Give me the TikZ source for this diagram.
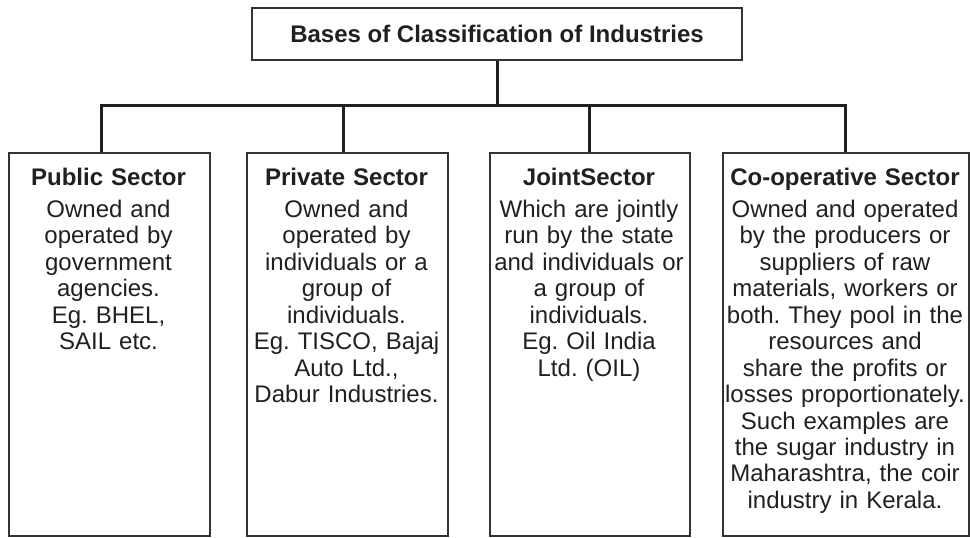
\documentclass[tikz,border=0pt]{standalone}
\usepackage{fontspec}
\setmainfont{Liberation Sans}
\definecolor{ink}{HTML}{231F20}
\definecolor{boxgray}{HTML}{333333}
\frenchspacing
\begin{document}
\begin{tikzpicture}[x=1pt,y=-1pt,
  box/.style={draw=boxgray, line width=2pt, inner sep=0pt, anchor=north west, fill=white},
  conn/.style={draw=ink, line width=3pt, line join=miter},
  txt/.style={anchor=base, text width=250pt, align=center, inner sep=0pt,
    font=\fontsize{24}{26.5}\selectfont, text=ink}]
\useasboundingbox[fill=white] (0,0) rectangle (970,538);

% title box
\node[box, minimum width=490pt, minimum height=52pt, text=ink,
  font=\fontsize{24}{26.5}\selectfont\bfseries] (top) at (251,7) {Bases of Classification of Industries};

% sector boxes
\node[box, minimum width=201pt, minimum height=383pt] (b1) at (8,152) {};
\node[box, minimum width=201pt, minimum height=383pt] (b2) at (246,152) {};
\node[box, minimum width=200pt, minimum height=383pt] (b3) at (489,152) {};
\node[box, minimum width=246pt, minimum height=383pt] (b4) at (722,152) {};

% bus coordinates
\coordinate (bus) at (497,105);
\coordinate (j1) at (101,105);
\coordinate (j2) at (343,105);
\coordinate (j3) at (589,105);
\coordinate (j4) at (845,105);

% connectors
\draw[conn] (top.south) -- (top.south |- bus);
\draw[conn] (j1 |- b1.north) -- (j1) -- (j4) -- (j4 |- b4.north);
\draw[conn] (j2) -- (j2 |- b2.north);
\draw[conn] (j3) -- (j3 |- b3.north);

% texts
\node[txt] (t1) at (108.5,185) {\textbf{Public Sector}\\[5.5pt]
  Owned and\\operated by\\government\\agencies.\\Eg. BHEL,\\SAIL etc.};
\node[txt] (t2) at (346.5,185) {\textbf{Private Sector}\\[5.5pt]
  Owned and\\operated by\\individuals or a\\group of\\individuals.\\Eg. TISCO, Bajaj\\Auto Ltd.,\\Dabur Industries.};
\node[txt] (t3) at (589,185) {\textbf{JointSector}\\[5.5pt]
  Which are jointly\\run by the state\\and individuals or\\a group of\\individuals.\\Eg. Oil India\\Ltd. (OIL)};
\node[txt] (t4) at (845,185) {\textbf{Co-operative Sector}\\[5.5pt]
  Owned and operated\\by the producers or\\suppliers of raw\\materials, workers or\\both. They pool in the\\resources and\\share the profits or\\losses proportionately.\\Such examples are\\the sugar industry in\\Maharashtra, the coir\\industry in Kerala.};
\end{tikzpicture}
\end{document}
